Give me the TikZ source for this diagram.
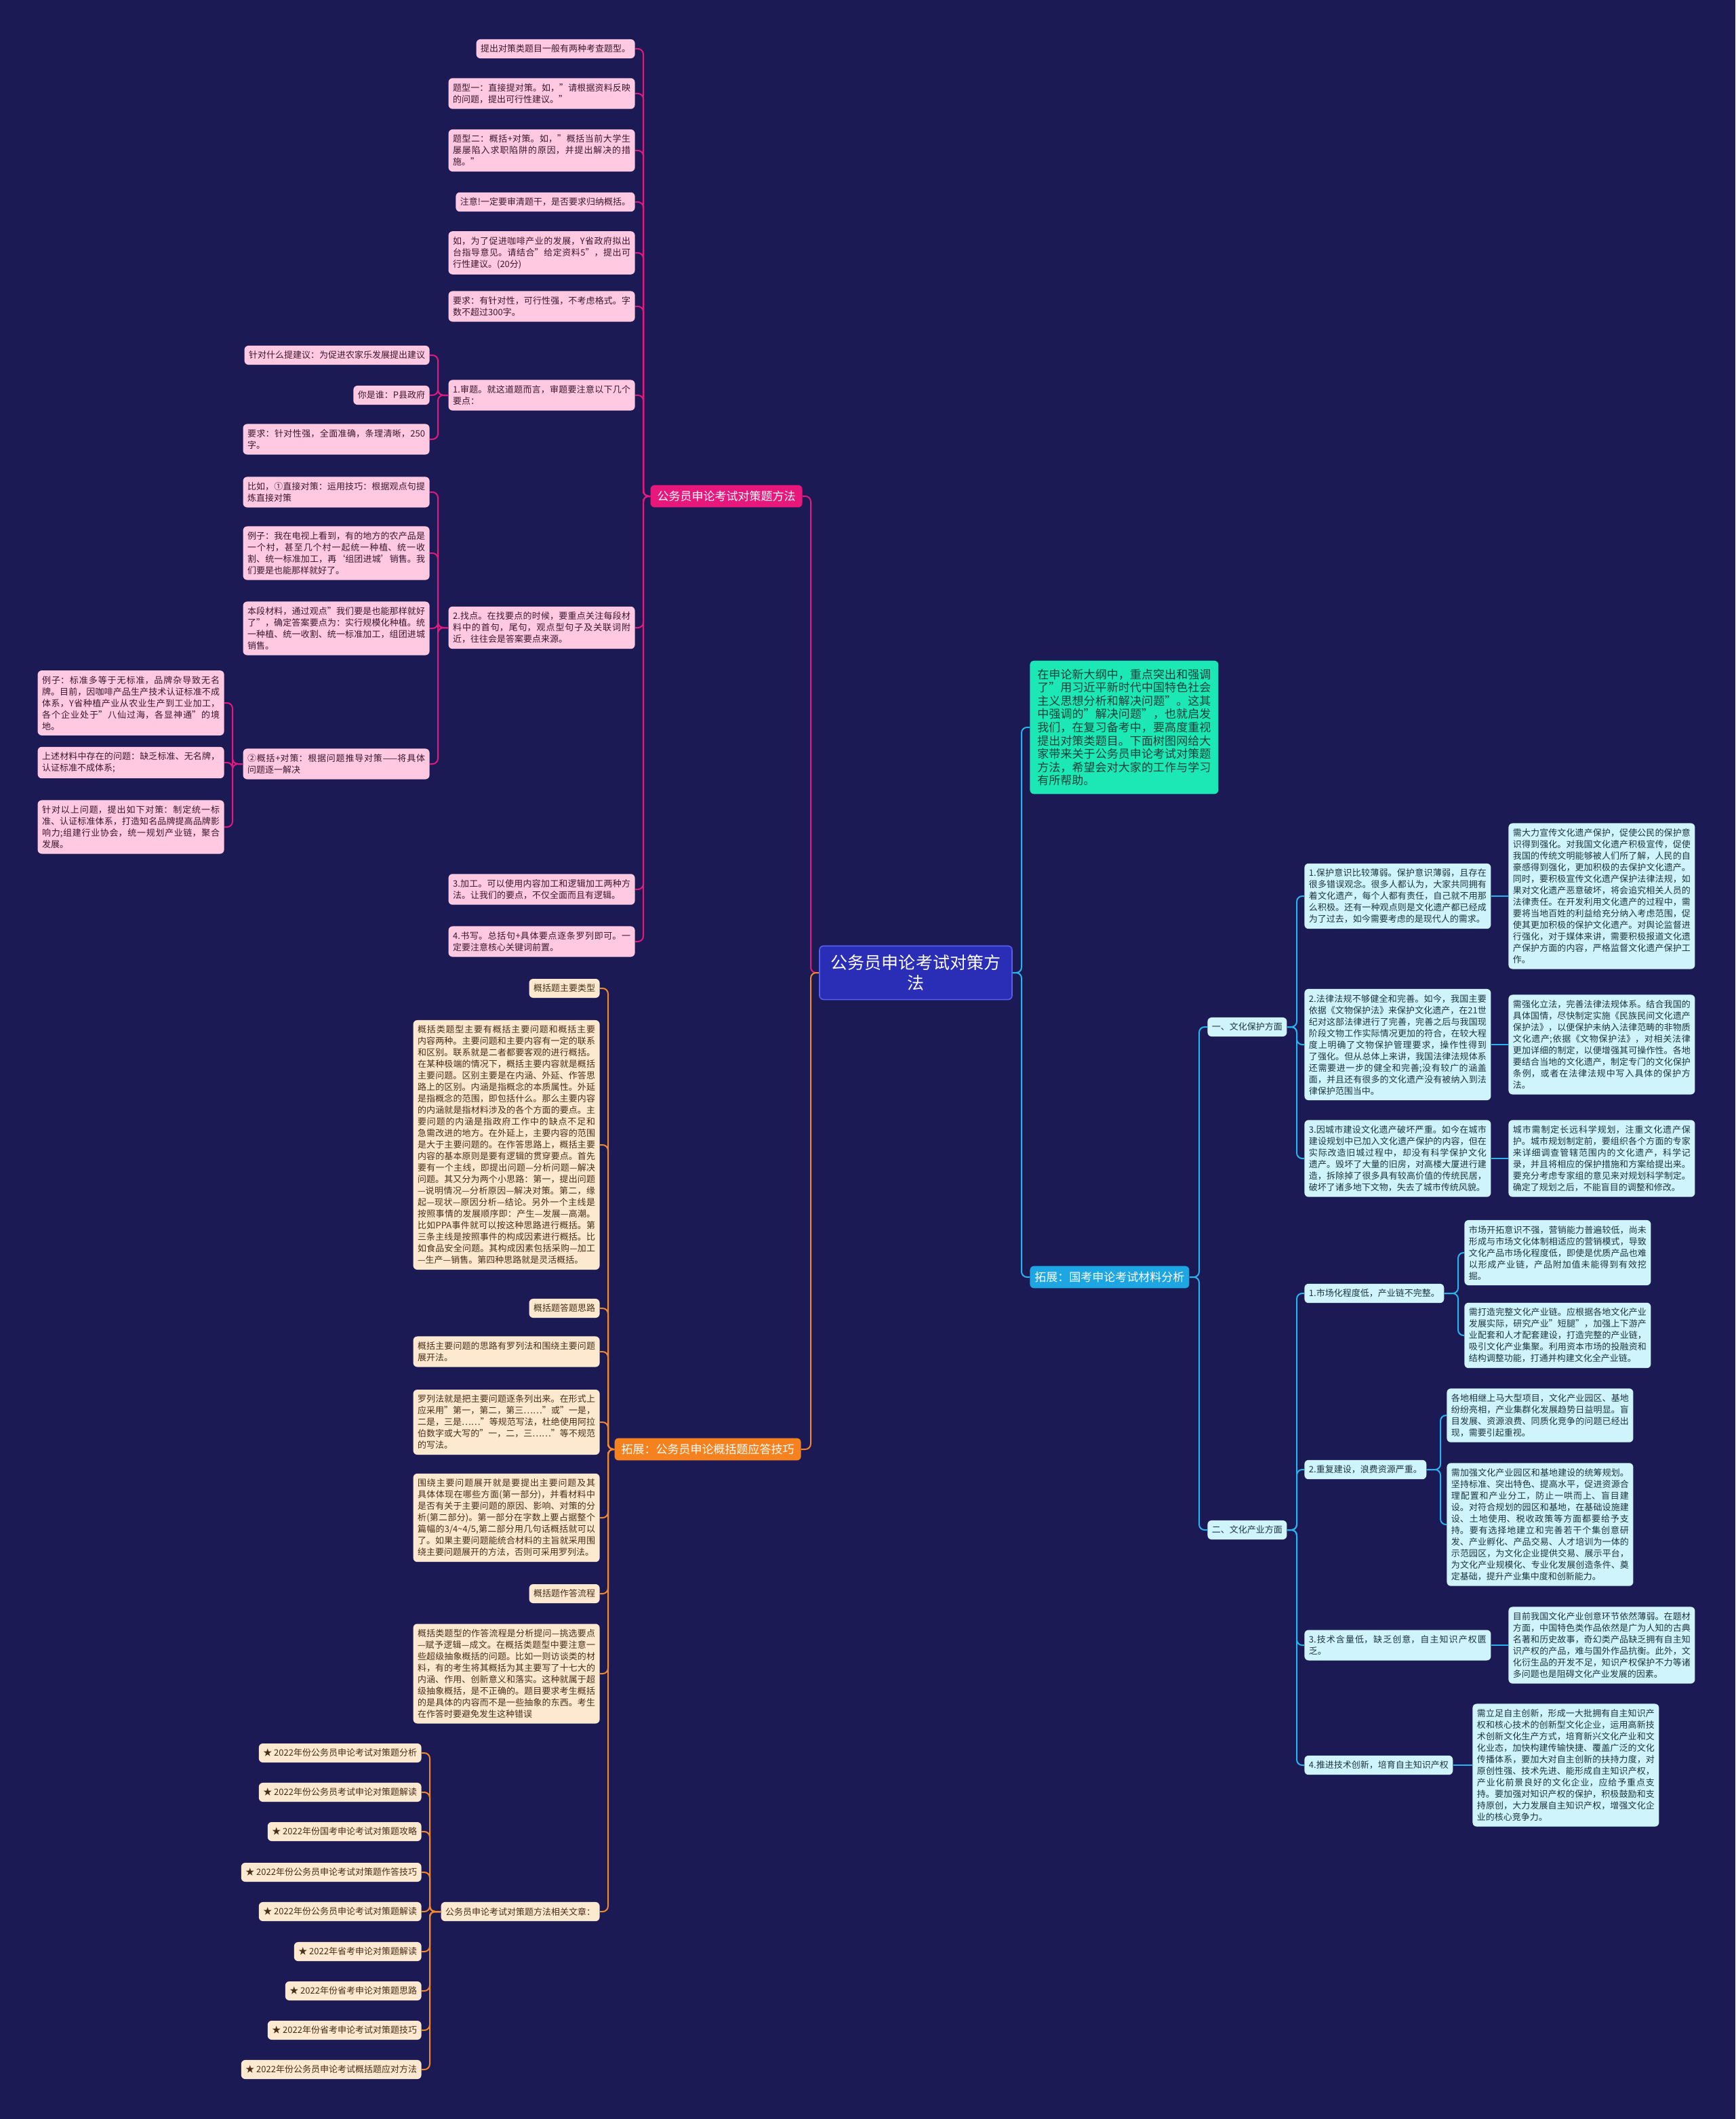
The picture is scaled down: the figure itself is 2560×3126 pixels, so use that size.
\documentclass[tikz,border=0pt]{standalone}
\usepackage{fontspec}
\setmainfont{Noto Sans CJK SC}
\XeTeXlinebreaklocale "zh"
\XeTeXlinebreakskip=0pt plus 1pt
\definecolor{navybg}{HTML}{1B1A55}
\definecolor{rootblue}{HTML}{2A2DB5}
\definecolor{rootedge}{HTML}{5560F0}
\definecolor{magline}{HTML}{E2197E}
\definecolor{magbranch}{HTML}{E8177C}
\definecolor{pinkfill}{HTML}{FFC9E1}
\definecolor{pinktext}{HTML}{3A1830}
\definecolor{orangeline}{HTML}{F2892B}
\definecolor{orangebranch}{HTML}{F5821F}
\definecolor{peachfill}{HTML}{FDE8D0}
\definecolor{peachtext}{HTML}{4A2E1A}
\definecolor{cyanline}{HTML}{2BB3EE}
\definecolor{cyanbranch}{HTML}{1EA6E3}
\definecolor{icefill}{HTML}{CFF4FC}
\definecolor{icetext}{HTML}{1D3540}
\definecolor{mintfill}{HTML}{1CE8B5}
\definecolor{minttext}{HTML}{10403A}
\newcommand\leaffont{\fontsize{6.5pt}{8.5pt}\selectfont}
\newcommand\branchfont{\fontsize{8.5pt}{10pt}\selectfont}
\newcommand\introfont{\fontsize{8.5pt}{9.8pt}\selectfont}
\newcommand\rootfont{\fontsize{12.5pt}{15pt}\selectfont}
\tikzset{
  card/.style={rounded corners=3pt, inner xsep=3.25pt, inner ysep=4pt, font=\leaffont},
  widecard/.style={text width=131pt, align=justify},
  pinkcard/.style ={card, fill=pinkfill,  text=pinktext},
  peachcard/.style={card, fill=peachfill, text=peachtext},
  icecard/.style  ={card, fill=icefill,   text=icetext},
  branchbox/.style={rounded corners=3pt, inner xsep=5pt, inner ysep=4.25pt,
                    font=\branchfont, text=white},
  rootnode/.style={rounded corners=3pt, fill=rootblue, draw=rootedge, line width=0.8pt,
                   text=white, font=\rootfont, text width=126pt, align=center,
                   inner xsep=8pt, inner ysep=6.5pt},
  wire/.style={rounded corners=4pt, line width=1pt},
  pinkwire/.style  ={wire, draw=magline},
  orangewire/.style={wire, draw=orangeline},
  cyanwire/.style  ={wire, draw=cyanline},
}

\begin{document}
\begin{tikzpicture}[x=0.5pt, y=-0.5pt]
\fill[navybg] (0,0) rectangle (2560,3126);

\node[rootnode] (root) at (1351,1435) {公务员申论考试对策方\\法};

% ---------------------------------------------------------------- left: method
\node[branchbox, fill=magbranch, anchor=east] (method) at (1184,732) {公务员申论考试对策题方法};

\node[pinkcard, anchor=east] (types) at (937,72) {提出对策类题目一般有两种考查题型。};
\node[pinkcard, widecard, anchor=east] (typeone) at (937,138)
  {题型一：直接提对策。如，"请根据资料反映的问题，提出可行性建议。"};
\node[pinkcard, widecard, anchor=east] (typetwo) at (937,222)
  {题型二：概括+对策。如，"概括当前大学生屡屡陷入求职陷阱的原因，并提出解决的措施。"};
\node[pinkcard, anchor=east] (notice) at (937,298) {注意!一定要审清题干，是否要求归纳概括。};
\node[pinkcard, widecard, anchor=east] (coffee) at (937,373)
  {如，为了促进咖啡产业的发展，Y省政府拟出台指导意见。请结合"给定资料5"，提出可行性建议。(20分)};
\node[pinkcard, widecard, anchor=east] (demand) at (937,452)
  {要求：有针对性，可行性强，不考虑格式。字数不超过300字。};
\node[pinkcard, widecard, anchor=east] (review) at (937,583)
  {1.审题。就这道题而言，审题要注意以下几个要点：};
\node[pinkcard, widecard, anchor=east] (findpts) at (937,926)
  {2.找点。在找要点的时候，要重点关注每段材料中的首句，尾句，观点型句子及关联词附近，往往会是答案要点来源。};
\node[pinkcard, widecard, anchor=east] (process) at (937,1312)
  {3.加工。可以使用内容加工和逻辑加工两种方法。让我们的要点，不仅全面而且有逻辑。};
\node[pinkcard, widecard, anchor=east] (writing) at (937,1389)
  {4.书写。总括句+具体要点逐条罗列即可。一定要注意核心关键词前置。};

% review details
\node[pinkcard, anchor=east] (reviewwhat) at (634,524) {针对什么提建议：为促进农家乐发展提出建议};
\node[pinkcard, anchor=east] (reviewwho) at (634,583) {你是谁：P县政府};
\node[pinkcard, widecard, anchor=east] (reviewreq) at (634,648)
  {要求：针对性强，全面准确，条理清晰，250字。};

% finding points details
\node[pinkcard, widecard, anchor=east] (direct) at (634,726)
  {比如，①直接对策：运用技巧：根据观点句提炼直接对策};
\node[pinkcard, widecard, anchor=east] (tvexample) at (634,816)
  {例子：我在电视上看到，有的地方的农产品是一个村，甚至几个村一起统一种植、统一收割、统一标准加工，再‘组团进城’销售。我们要是也能那样就好了。};
\node[pinkcard, widecard, anchor=east] (excerpt) at (634,927)
  {本段材料，通过观点"我们要是也能那样就好了"，确定答案要点为：实行规模化种植。统一种植、统一收割、统一标准加工，组团进城销售。};
\node[pinkcard, widecard, anchor=east] (summarize) at (634,1127)
  {②概括+对策：根据问题推导对策——将具体问题逐一解决};

\node[pinkcard, widecard, anchor=east] (stdexample) at (331,1037)
  {例子：标准多等于无标准，品牌杂导致无名牌。目前，因咖啡产品生产技术认证标准不成体系，Y省种植产业从农业生产到工业加工，各个企业处于"八仙过海，各显神通"的境地。};
\node[pinkcard, widecard, anchor=east] (problems) at (331,1125)
  {上述材料中存在的问题：缺乏标准、无名牌，认证标准不成体系;};
\node[pinkcard, widecard, anchor=east] (measures) at (331,1220)
  {针对以上问题，提出如下对策：制定统一标准、认证标准体系，打造知名品牌提高品牌影响力;组建行业协会，统一规划产业链，聚合发展。};

\foreach \c in {types,typeone,typetwo,notice,coffee,demand,review,findpts,process,writing}
  \draw[pinkwire] (\c.east) -- ++(12,0) |- (method.west);
\foreach \c in {reviewwhat,reviewwho,reviewreq}
  \draw[pinkwire] (\c.east) -- ++(12,0) |- (review.west);
\foreach \c in {direct,tvexample,excerpt,summarize}
  \draw[pinkwire] (\c.east) -- ++(12,0) |- (findpts.west);
\foreach \c in {stdexample,problems,measures}
  \draw[pinkwire] (\c.east) -- ++(12,0) |- (summarize.west);
\draw[pinkwire] (method.east) -- ++(12,0) |- (root.west);

% ---------------------------------------------------------------- left: summary questions
\node[branchbox, fill=orangebranch, anchor=east] (summary) at (1182,2138) {拓展：公务员申论概括题应答技巧};

\node[peachcard, anchor=east] (sumtypes) at (885,1458) {概括题主要类型};
\node[peachcard, widecard, anchor=east] (sumtypestxt) at (885,1689)
  {概括类题型主要有概括主要问题和概括主要内容两种。主要问题和主要内容有一定的联系和区别。联系就是二者都要客观的进行概括。在某种极端的情况下，概括主要内容就是概括主要问题。区别主要是在内涵、外延、作答思路上的区别。内涵是指概念的本质属性。外延是指概念的范围，即包括什么。那么主要内容的内涵就是指材料涉及的各个方面的要点。主要问题的内涵是指政府工作中的缺点不足和急需改进的地方。在外延上，主要内容的范围是大于主要问题的。在作答思路上，概括主要内容的基本原则是要有逻辑的贯穿要点。首先要有一个主线，即提出问题—分析问题—解决问题。其又分为两个小思路：第一，提出问题—说明情况—分析原因—解决对策。第二，缘起—现状—原因分析—结论。另外一个主线是按照事情的发展顺序即：产生—发展—高潮。比如PPA事件就可以按这种思路进行概括。第三条主线是按照事件的构成因素进行概括。比如食品安全问题。其构成因素包括采购—加工—生产—销售。第四种思路就是灵活概括。};
\node[peachcard, anchor=east] (sumideas) at (885,1930) {概括题答题思路};
\node[peachcard, widecard, anchor=east] (sumideastxt) at (885,1994)
  {概括主要问题的思路有罗列法和围绕主要问题展开法。};
\node[peachcard, widecard, anchor=east] (listing) at (885,2098)
  {罗列法就是把主要问题逐条列出来。在形式上应采用"第一，第二，第三……"或"一是，二是，三是……"等规范写法，杜绝使用阿拉伯数字或大写的"一，二，三……"等不规范的写法。};
\node[peachcard, widecard, anchor=east] (around) at (885,2239)
  {围绕主要问题展开就是要提出主要问题及其具体体现在哪些方面(第一部分)，并看材料中是否有关于主要问题的原因、影响、对策的分析(第二部分)。第一部分在字数上要占据整个篇幅的3/4\textasciitilde 4/5,第二部分用几句话概括就可以了。如果主要问题能统合材料的主旨就采用围绕主要问题展开的方法，否则可采用罗列法。};
\node[peachcard, anchor=east] (sumflow) at (885,2351) {概括题作答流程};
\node[peachcard, widecard, anchor=east] (sumflowtxt) at (885,2469)
  {概括类题型的作答流程是分析提问—挑选要点—赋予逻辑—成文。在概括类题型中要注意一些超级抽象概括的问题。比如一则访谈类的材料，有的考生将其概括为其主要写了十七大的内涵、作用、创新意义和落实。这种就属于超级抽象概括，是不正确的。题目要求考生概括的是具体的内容而不是一些抽象的东西。考生在作答时要避免发生这种错误};
\node[peachcard, anchor=east] (articles) at (885,2820) {公务员申论考试对策题方法相关文章：};

\foreach \c in {sumtypes,sumtypestxt,sumideas,sumideastxt,listing,around,sumflow,sumflowtxt,articles}
  \draw[orangewire] (\c.east) -- ++(12,0) |- (summary.west);
\draw[orangewire] (summary.east) -- ++(14,0) |- (root.west);

% related articles
\foreach \i/\y/\t in {1/2586/2022年份公务员申论考试对策题分析,
                      2/2644/2022年份公务员考试申论对策题解读,
                      3/2702/2022年份国考申论考试对策题攻略,
                      4/2762/2022年份公务员申论考试对策题作答技巧,
                      5/2820/2022年份公务员申论考试对策题解读,
                      6/2879/2022年省考申论对策题解读,
                      7/2937/2022年份省考申论对策题思路,
                      8/2995/2022年份省考申论考试对策题技巧,
                      9/3053/2022年份公务员申论考试概括题应对方法} {
  \node[peachcard, anchor=east] (star\i) at (622,\y) {★ \t};
  \draw[orangewire] (star\i.east) -- ++(12,0) |- (articles.west);
}

% ---------------------------------------------------------------- right: intro
\node[rounded corners=3pt, fill=mintfill, text=minttext, font=\introfont, text width=128pt,
      align=justify, inner xsep=5.5pt, inner ysep=6pt, anchor=west] (intro) at (1519,1073)
  {在申论新大纲中，重点突出和强调了"用习近平新时代中国特色社会主义思想分析和解决问题"。这其中强调的"解决问题"，也就启发我们，在复习备考中，要高度重视提出对策类题目。下面树图网给大家带来关于公务员申论考试对策题方法，希望会对大家的工作与学习有所帮助。};
\draw[cyanwire] (intro.west) -- ++(-12,0) |- (root.east);

% ---------------------------------------------------------------- right: materials
\node[branchbox, fill=cyanbranch, inner xsep=3.5pt, anchor=west] (geo) at (1519,1884) {拓展：国考申论考试材料分析};
\draw[cyanwire] (geo.west) -- ++(-12,0) |- (root.east);

\node[icecard, anchor=west] (heritage) at (1781,1515) {一、文化保护方面};
\node[icecard, anchor=west] (industry) at (1781,2257) {二、文化产业方面};
\foreach \c in {heritage,industry}
  \draw[cyanwire] (\c.west) -- ++(-12,0) |- (geo.east);

% heritage protection
\node[icecard, widecard, anchor=west] (h1) at (1924,1322)
  {1.保护意识比较薄弱。保护意识薄弱，且存在很多错误观念。很多人都认为，大家共同拥有着文化遗产，每个人都有责任，自己就不用那么积极。还有一种观点则是文化遗产都已经成为了过去，如今需要考虑的是现代人的需求。};
\node[icecard, widecard, anchor=west] (h1fix) at (2225,1322)
  {需大力宣传文化遗产保护，促使公民的保护意识得到强化。对我国文化遗产积极宣传，促使我国的传统文明能够被人们所了解，人民的自豪感得到强化，更加积极的去保护文化遗产。同时，要积极宣传文化遗产保护法律法规，如果对文化遗产恶意破坏，将会追究相关人员的法律责任。在开发利用文化遗产的过程中，需要将当地百姓的利益给充分纳入考虑范围，促使其更加积极的保护文化遗产。对舆论监督进行强化，对于媒体来讲，需要积极报道文化遗产保护方面的内容，严格监督文化遗产保护工作。};
\node[icecard, widecard, anchor=west] (h2) at (1924,1541)
  {2.法律法规不够健全和完善。如今，我国主要依据《文物保护法》来保护文化遗产，在21世纪对这部法律进行了完善，完善之后与我国现阶段文物工作实际情况更加的符合，在较大程度上明确了文物保护管理要求，操作性得到了强化。但从总体上来讲，我国法律法规体系还需要进一步的健全和完善;没有较广的涵盖面，并且还有很多的文化遗产没有被纳入到法律保护范围当中。};
\node[icecard, widecard, anchor=west] (h2fix) at (2225,1541)
  {需强化立法，完善法律法规体系。结合我国的具体国情，尽快制定实施《民族民间文化遗产保护法》，以便保护未纳入法律范畴的非物质文化遗产;依据《文物保护法》，对相关法律更加详细的制定，以便增强其可操作性。各地要结合当地的文化遗产，制定专门的文化保护条例，或者在法律法规中写入具体的保护方法。};
\node[icecard, widecard, anchor=west] (h3) at (1924,1709)
  {3.因城市建设文化遗产破坏严重。如今在城市建设规划中已加入文化遗产保护的内容，但在实际改造旧城过程中，却没有科学保护文化遗产。毁坏了大量的旧房，对高楼大厦进行建造，拆除掉了很多具有较高价值的传统民居，破坏了诸多地下文物，失去了城市传统风貌。};
\node[icecard, widecard, anchor=west] (h3fix) at (2225,1709)
  {城市需制定长远科学规划，注重文化遗产保护。城市规划制定前，要组织各个方面的专家来详细调查管辖范围内的文化遗产，科学记录，并且将相应的保护措施和方案给提出来。要充分考虑专家组的意见来对规划科学制定。确定了规划之后，不能盲目的调整和修改。};
\foreach \c in {h1,h2,h3}
  \draw[cyanwire] (\c.west) -- ++(-11,0) |- (heritage.east);
\foreach \c in {h1,h2,h3}
  \draw[cyanwire] (\c.east) -- (\c fix.west);

% cultural industry
\node[icecard, anchor=west] (i1) at (1924,1908) {1.市场化程度低，产业链不完整。};
\node[icecard, widecard, anchor=west] (i1a) at (2160,1848)
  {市场开拓意识不强，营销能力普遍较低，尚未形成与市场文化体制相适应的营销模式，导致文化产品市场化程度低，即使是优质产品也难以形成产业链，产品附加值未能得到有效挖掘。};
\node[icecard, widecard, anchor=west] (i1b) at (2160,1970)
  {需打造完整文化产业链。应根据各地文化产业发展实际，研究产业"短腿"，加强上下游产业配套和人才配套建设，打造完整的产业链，吸引文化产业集聚。利用资本市场的投融资和结构调整功能，打通并构建文化全产业链。};
\node[icecard, anchor=west] (i2) at (1924,2168) {2.重复建设，浪费资源严重。};
\node[icecard, widecard, anchor=west] (i2a) at (2134,2088)
  {各地相继上马大型项目，文化产业园区、基地纷纷亮相，产业集群化发展趋势日益明显。盲目发展、资源浪费、同质化竞争的问题已经出现，需要引起重视。};
\node[icecard, widecard, anchor=west] (i2b) at (2134,2249)
  {需加强文化产业园区和基地建设的统筹规划。坚持标准、突出特色、提高水平，促进资源合理配置和产业分工，防止一哄而上、盲目建设。对符合规划的园区和基地，在基础设施建设、土地使用、税收政策等方面都要给予支持。要有选择地建立和完善若干个集创意研发、产业孵化、产品交易、人才培训为一体的示范园区，为文化企业提供交易、展示平台，为文化产业规模化、专业化发展创造条件、奠定基础，提升产业集中度和创新能力。};
\node[icecard, widecard, anchor=west] (i3) at (1924,2427)
  {3.技术含量低，缺乏创意，自主知识产权匮乏。};
\node[icecard, widecard, anchor=west] (i3fix) at (2225,2427)
  {目前我国文化产业创意环节依然薄弱。在题材方面，中国特色类作品依然是广为人知的古典名著和历史故事，奇幻类产品缺乏拥有自主知识产权的产品，难与国外作品抗衡。此外，文化衍生品的开发不足，知识产权保护不力等诸多问题也是阻碍文化产业发展的因素。};
\node[icecard, anchor=west] (i4) at (1924,2604) {4.推进技术创新，培育自主知识产权};
\node[icecard, widecard, anchor=west] (i4fix) at (2172,2604)
  {需立足自主创新，形成一大批拥有自主知识产权和核心技术的创新型文化企业，运用高新技术创新文化生产方式，培育新兴文化产业和文化业态，加快构建传输快捷、覆盖广泛的文化传播体系，要加大对自主创新的扶持力度，对原创性强、技术先进、能形成自主知识产权，产业化前景良好的文化企业，应给予重点支持。要加强对知识产权的保护，积极鼓励和支持原创，大力发展自主知识产权，增强文化企业的核心竞争力。};

\foreach \c in {i1,i2,i3,i4}
  \draw[cyanwire] (\c.west) -- ++(-11,0) |- (industry.east);
\foreach \c in {i1a,i1b}
  \draw[cyanwire] (\c.west) -- ++(-9,0) |- (i1.east);
\foreach \c in {i2a,i2b}
  \draw[cyanwire] (\c.west) -- ++(-9,0) |- (i2.east);
\draw[cyanwire] (i3.east) -- (i3fix.west);
\draw[cyanwire] (i4.east) -- (i4fix.west);

\end{tikzpicture}
\end{document}
